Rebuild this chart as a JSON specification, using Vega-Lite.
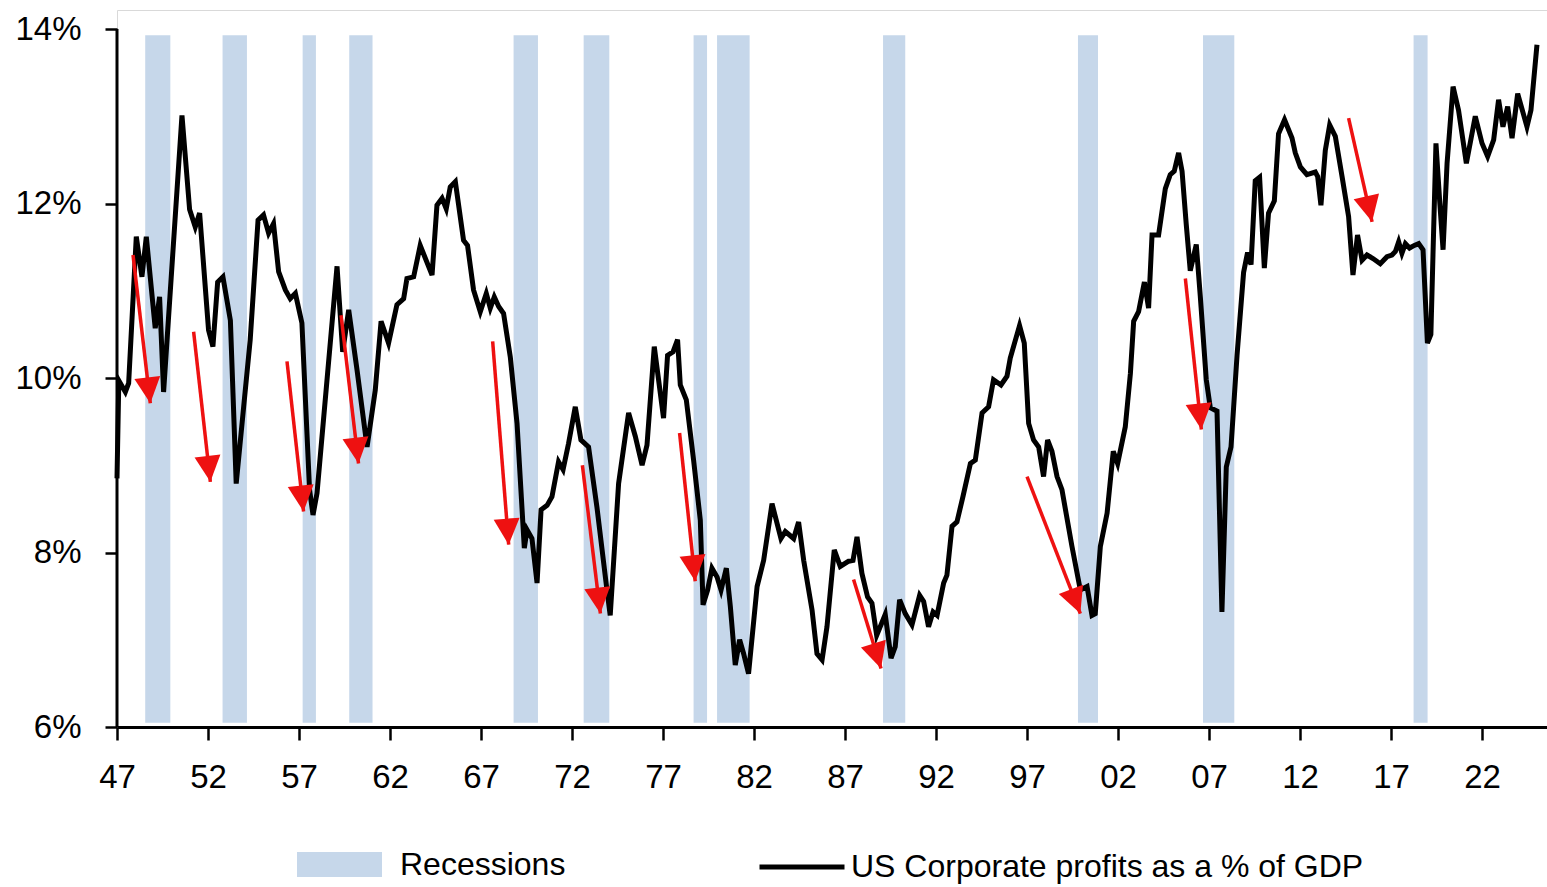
{
  "$schema": "https://vega.github.io/schema/vega-lite/v6.json",
  "width": 1430,
  "height": 717,
  "autosize": {"type": "none"},
  "padding": {"left": 117, "top": 10, "right": 0, "bottom": 160},
  "background": "white",
  "config": {
    "view": {"stroke": "#d9d9d9", "strokeWidth": 1},
    "font": "Liberation Sans"
  },
  "datasets": {
    "profits": [
      {"year":1947.0,"pct":8.85},{"year":1947.1,"pct":9.97},{"year":1947.46,"pct":9.84},{"year":1947.64,"pct":9.94},{"year":1948.06,"pct":11.62},{"year":1948.37,"pct":11.16},{"year":1948.61,"pct":11.62},{"year":1949.10,"pct":10.57},{"year":1949.34,"pct":10.93},{"year":1949.56,"pct":9.84},{"year":1950.57,"pct":13.01},{"year":1950.99,"pct":11.93},{"year":1951.30,"pct":11.73},{"year":1951.54,"pct":11.89},{"year":1952.03,"pct":10.55},{"year":1952.27,"pct":10.36},{"year":1952.53,"pct":11.10},{"year":1952.82,"pct":11.16},{"year":1953.23,"pct":10.66},{"year":1953.55,"pct":8.79},{"year":1953.96,"pct":9.67},{"year":1954.32,"pct":10.44},{"year":1954.75,"pct":11.81},{"year":1955.05,"pct":11.87},{"year":1955.33,"pct":11.66},{"year":1955.60,"pct":11.77},{"year":1955.88,"pct":11.22},{"year":1956.25,"pct":11.01},{"year":1956.52,"pct":10.91},{"year":1956.80,"pct":10.97},{"year":1957.16,"pct":10.63},{"year":1957.58,"pct":8.72},{"year":1957.77,"pct":8.43},{"year":1957.99,"pct":8.68},{"year":1959.09,"pct":11.28},{"year":1959.40,"pct":10.30},{"year":1959.73,"pct":10.78},{"year":1960.19,"pct":10.09},{"year":1960.74,"pct":9.21},{"year":1961.19,"pct":9.86},{"year":1961.51,"pct":10.65},{"year":1961.92,"pct":10.40},{"year":1962.38,"pct":10.84},{"year":1962.75,"pct":10.91},{"year":1962.93,"pct":11.14},{"year":1963.30,"pct":11.16},{"year":1963.66,"pct":11.52},{"year":1964.31,"pct":11.18},{"year":1964.58,"pct":11.98},{"year":1964.86,"pct":12.06},{"year":1965.09,"pct":11.94},{"year":1965.31,"pct":12.19},{"year":1965.59,"pct":12.25},{"year":1966.04,"pct":11.58},{"year":1966.26,"pct":11.52},{"year":1966.59,"pct":11.01},{"year":1966.96,"pct":10.76},{"year":1967.29,"pct":10.97},{"year":1967.51,"pct":10.80},{"year":1967.73,"pct":10.93},{"year":1967.97,"pct":10.82},{"year":1968.24,"pct":10.74},{"year":1968.61,"pct":10.24},{"year":1968.98,"pct":9.48},{"year":1969.38,"pct":8.05},{"year":1969.53,"pct":8.26},{"year":1969.80,"pct":8.16},{"year":1970.08,"pct":7.65},{"year":1970.30,"pct":8.49},{"year":1970.63,"pct":8.54},{"year":1970.90,"pct":8.64},{"year":1971.26,"pct":9.04},{"year":1971.51,"pct":8.95},{"year":1971.81,"pct":9.25},{"year":1972.18,"pct":9.67},{"year":1972.49,"pct":9.29},{"year":1972.91,"pct":9.21},{"year":1973.37,"pct":8.52},{"year":1973.92,"pct":7.57},{"year":1974.10,"pct":7.28},{"year":1974.56,"pct":8.79},{"year":1975.11,"pct":9.60},{"year":1975.48,"pct":9.33},{"year":1975.85,"pct":9.00},{"year":1976.12,"pct":9.23},{"year":1976.52,"pct":10.36},{"year":1977.03,"pct":9.54},{"year":1977.25,"pct":10.26},{"year":1977.55,"pct":10.30},{"year":1977.80,"pct":10.44},{"year":1977.95,"pct":9.92},{"year":1978.28,"pct":9.75},{"year":1978.68,"pct":9.06},{"year":1979.05,"pct":8.37},{"year":1979.20,"pct":7.40},{"year":1979.45,"pct":7.57},{"year":1979.69,"pct":7.82},{"year":1979.97,"pct":7.72},{"year":1980.19,"pct":7.57},{"year":1980.48,"pct":7.82},{"year":1980.70,"pct":7.38},{"year":1980.97,"pct":6.71},{"year":1981.21,"pct":7.00},{"year":1981.43,"pct":6.84},{"year":1981.70,"pct":6.61},{"year":1982.17,"pct":7.61},{"year":1982.53,"pct":7.91},{"year":1982.99,"pct":8.56},{"year":1983.48,"pct":8.16},{"year":1983.72,"pct":8.24},{"year":1984.18,"pct":8.16},{"year":1984.45,"pct":8.35},{"year":1984.73,"pct":7.91},{"year":1985.19,"pct":7.34},{"year":1985.46,"pct":6.84},{"year":1985.74,"pct":6.77},{"year":1986.01,"pct":7.15},{"year":1986.41,"pct":8.03},{"year":1986.74,"pct":7.84},{"year":1987.20,"pct":7.90},{"year":1987.44,"pct":7.91},{"year":1987.66,"pct":8.18},{"year":1987.93,"pct":7.76},{"year":1988.24,"pct":7.49},{"year":1988.48,"pct":7.42},{"year":1988.74,"pct":7.05},{"year":1989.21,"pct":7.29},{"year":1989.53,"pct":6.79},{"year":1989.76,"pct":6.92},{"year":1990.00,"pct":7.46},{"year":1990.31,"pct":7.30},{"year":1990.68,"pct":7.17},{"year":1991.10,"pct":7.51},{"year":1991.32,"pct":7.44},{"year":1991.59,"pct":7.15},{"year":1991.84,"pct":7.32},{"year":1992.06,"pct":7.28},{"year":1992.42,"pct":7.65},{"year":1992.60,"pct":7.74},{"year":1992.88,"pct":8.30},{"year":1993.15,"pct":8.35},{"year":1993.48,"pct":8.64},{"year":1993.89,"pct":9.02},{"year":1994.16,"pct":9.06},{"year":1994.53,"pct":9.60},{"year":1994.89,"pct":9.67},{"year":1995.16,"pct":9.98},{"year":1995.57,"pct":9.92},{"year":1995.90,"pct":10.02},{"year":1996.08,"pct":10.23},{"year":1996.59,"pct":10.60},{"year":1996.85,"pct":10.40},{"year":1997.09,"pct":9.48},{"year":1997.36,"pct":9.29},{"year":1997.64,"pct":9.21},{"year":1997.91,"pct":8.87},{"year":1998.13,"pct":9.29},{"year":1998.37,"pct":9.16},{"year":1998.65,"pct":8.87},{"year":1998.92,"pct":8.72},{"year":1999.47,"pct":8.07},{"year":1999.93,"pct":7.57},{"year":2000.30,"pct":7.61},{"year":2000.57,"pct":7.28},{"year":2000.75,"pct":7.30},{"year":2001.03,"pct":8.07},{"year":2001.40,"pct":8.45},{"year":2001.74,"pct":9.16},{"year":2001.98,"pct":9.02},{"year":2002.40,"pct":9.44},{"year":2002.68,"pct":10.05},{"year":2002.86,"pct":10.65},{"year":2003.13,"pct":10.76},{"year":2003.45,"pct":11.10},{"year":2003.68,"pct":10.80},{"year":2003.87,"pct":11.64},{"year":2004.23,"pct":11.64},{"year":2004.60,"pct":12.17},{"year":2004.87,"pct":12.33},{"year":2005.09,"pct":12.37},{"year":2005.33,"pct":12.58},{"year":2005.52,"pct":12.37},{"year":2005.75,"pct":11.76},{"year":2005.97,"pct":11.23},{"year":2006.30,"pct":11.53},{"year":2006.52,"pct":10.94},{"year":2006.85,"pct":9.98},{"year":2007.07,"pct":9.66},{"year":2007.44,"pct":9.62},{"year":2007.71,"pct":7.32},{"year":2007.95,"pct":8.98},{"year":2008.21,"pct":9.21},{"year":2008.54,"pct":10.26},{"year":2008.90,"pct":11.21},{"year":2009.12,"pct":11.44},{"year":2009.31,"pct":11.30},{"year":2009.54,"pct":12.26},{"year":2009.78,"pct":12.30},{"year":2010.04,"pct":11.26},{"year":2010.27,"pct":11.89},{"year":2010.59,"pct":12.03},{"year":2010.82,"pct":12.80},{"year":2011.15,"pct":12.96},{"year":2011.56,"pct":12.75},{"year":2011.74,"pct":12.58},{"year":2012.02,"pct":12.42},{"year":2012.38,"pct":12.33},{"year":2012.84,"pct":12.36},{"year":2012.97,"pct":12.31},{"year":2013.15,"pct":11.98},{"year":2013.39,"pct":12.61},{"year":2013.63,"pct":12.90},{"year":2013.94,"pct":12.77},{"year":2014.31,"pct":12.31},{"year":2014.67,"pct":11.85},{"year":2014.91,"pct":11.18},{"year":2015.16,"pct":11.64},{"year":2015.41,"pct":11.35},{"year":2015.68,"pct":11.41},{"year":2016.01,"pct":11.37},{"year":2016.41,"pct":11.31},{"year":2016.78,"pct":11.39},{"year":2017.05,"pct":11.41},{"year":2017.24,"pct":11.45},{"year":2017.42,"pct":11.56},{"year":2017.60,"pct":11.43},{"year":2017.79,"pct":11.54},{"year":2018.02,"pct":11.49},{"year":2018.28,"pct":11.52},{"year":2018.52,"pct":11.54},{"year":2018.76,"pct":11.47},{"year":2019.00,"pct":10.40},{"year":2019.19,"pct":10.50},{"year":2019.47,"pct":12.69},{"year":2019.67,"pct":12.04},{"year":2019.86,"pct":11.47},{"year":2020.08,"pct":12.46},{"year":2020.41,"pct":13.34},{"year":2020.71,"pct":13.07},{"year":2021.14,"pct":12.46},{"year":2021.63,"pct":13.00},{"year":2022.00,"pct":12.69},{"year":2022.31,"pct":12.54},{"year":2022.64,"pct":12.73},{"year":2022.91,"pct":13.19},{"year":2023.15,"pct":12.88},{"year":2023.41,"pct":13.11},{"year":2023.65,"pct":12.75},{"year":2023.96,"pct":13.26},{"year":2024.47,"pct":12.88},{"year":2024.69,"pct":13.07},{"year":2025.02,"pct":13.82}
    ],
    "recessions": [
      {"start":1948.55,"end":1949.93},{"start":1952.80,"end":1954.14},{"start":1957.20,"end":1957.93},{"start":1959.76,"end":1961.04},{"start":1968.79,"end":1970.13},{"start":1972.64,"end":1974.05},{"start":1978.68,"end":1979.42},{"start":1979.97,"end":1981.76},{"start":1989.09,"end":1990.31},{"start":1999.80,"end":2000.90},{"start":2006.67,"end":2008.39},{"start":2018.24,"end":2019.01}
    ],
    "arrows": [
      {"x1":1947.88,"y1":11.41,"x2":1948.83,"y2":9.71},
      {"x1":1951.21,"y1":10.53,"x2":1952.13,"y2":8.81},
      {"x1":1956.34,"y1":10.19,"x2":1957.25,"y2":8.47},
      {"x1":1959.31,"y1":10.72,"x2":1960.27,"y2":9.02},
      {"x1":1967.64,"y1":10.42,"x2":1968.52,"y2":8.09},
      {"x1":1972.57,"y1":9.00,"x2":1973.56,"y2":7.30},
      {"x1":1977.91,"y1":9.37,"x2":1978.77,"y2":7.67},
      {"x1":1987.47,"y1":7.69,"x2":1988.98,"y2":6.67},
      {"x1":1997.00,"y1":8.87,"x2":1999.93,"y2":7.30},
      {"x1":2005.70,"y1":11.14,"x2":2006.58,"y2":9.41},
      {"x1":2014.67,"y1":12.98,"x2":2015.96,"y2":11.79}
    ]
  },
  "layer": [
    {
      "data": {"name": "recessions"},
      "mark": {"type": "rect", "opacity": 1},
      "encoding": {
        "x": {
          "field": "start", "type": "quantitative",
          "scale": {"domain": [1947, 2025.571], "nice": false, "zero": false},
          "axis": {
            "values": [1947,1952,1957,1962,1967,1972,1977,1982,1987,1992,1997,2002,2007,2012,2017,2022],
            "labelExpr": "slice('0' + (datum.value % 100), -2)",
            "title": null, "grid": false,
            "domainColor": "#000000", "domainWidth": 3,
            "tickColor": "#000000", "tickWidth": 2.5, "tickSize": 13,
            "labelFont": "Liberation Sans", "labelFontSize": 33, "labelColor": "#000000",
            "labelPadding": 21, "labelFlush": false, "labelOverlap": false
          }
        },
        "x2": {"field": "end"},
        "y": {
          "datum": 6.05, "type": "quantitative",
          "scale": {"domain": [6, 14.218], "nice": false, "zero": false},
          "axis": {
            "values": [6, 8, 10, 12, 14],
            "labelExpr": "datum.value + '%'",
            "title": null, "grid": false, "domain": false,
            "tickColor": "#000000", "tickWidth": 2.5, "tickSize": 12,
            "labelFont": "Liberation Sans", "labelFontSize": 33, "labelColor": "#000000",
            "labelPadding": 24
          }
        },
        "y2": {"datum": 13.93},
        "fill": {
          "datum": "Recessions", "type": "nominal",
          "scale": {"range": ["#c6d7ea"]},
          "legend": {
            "orient": "none", "legendX": 180, "legendY": 812, "title": null, "padding": 0,
            "symbolType": "M-1,-0.294L1,-0.294L1,0.294L-1,0.294Z", "symbolSize": 7225,
            "symbolStrokeWidth": 0, "symbolOpacity": 1,
            "labelFont": "Liberation Sans", "labelFontSize": 32, "labelColor": "#000000",
            "labelOffset": 18, "labelLimit": 600
          }
        }
      }
    },
    {
      "data": {"name": "profits"},
      "mark": {"type": "line", "strokeWidth": 5},
      "encoding": {
        "x": {"field": "year", "type": "quantitative"},
        "y": {"field": "pct", "type": "quantitative"},
        "stroke": {
          "datum": "US Corporate profits as a % of GDP", "type": "nominal",
          "scale": {"range": ["#000000"]},
          "legend": {
            "orient": "none", "legendX": 640, "legendY": 812, "title": null, "padding": 0,
            "symbolType": "stroke", "symbolSize": 7225, "symbolStrokeWidth": 5,
            "labelFont": "Liberation Sans", "labelFontSize": 32, "labelColor": "#000000",
            "labelOffset": 4, "labelLimit": 800
          }
        }
      }
    },
    {
      "data": {"name": "arrows"},
      "mark": {"type": "rule", "color": "#ee1111", "strokeWidth": 3.5},
      "encoding": {
        "x": {"field": "x1", "type": "quantitative"},
        "y": {"field": "y1", "type": "quantitative"},
        "x2": {"field": "x2"},
        "y2": {"field": "y2"}
      }
    },
    {
      "data": {"name": "arrows"},
      "transform": [
        {"calculate": "-atan2((datum.x2 - datum.x1) * 18.2, (datum.y1 - datum.y2) * 87.25) * 180 / PI", "as": "ang"}
      ],
      "mark": {"type": "point", "shape": "M0,0L-0.5,-1L0.5,-1Z", "filled": true, "color": "#ee1111", "size": 2704, "opacity": 1, "strokeWidth": 0},
      "encoding": {
        "x": {"field": "x2", "type": "quantitative"},
        "y": {"field": "y2", "type": "quantitative"},
        "angle": {"field": "ang", "type": "quantitative", "scale": null}
      }
    },
    {
      "data": {"values": [{}]},
      "mark": {"type": "rule", "color": "#000000", "strokeWidth": 3},
      "encoding": {
        "x": {"datum": 1947, "type": "quantitative"},
        "y": {"datum": 6, "type": "quantitative"},
        "y2": {"datum": 14}
      }
    }
  ]
}
